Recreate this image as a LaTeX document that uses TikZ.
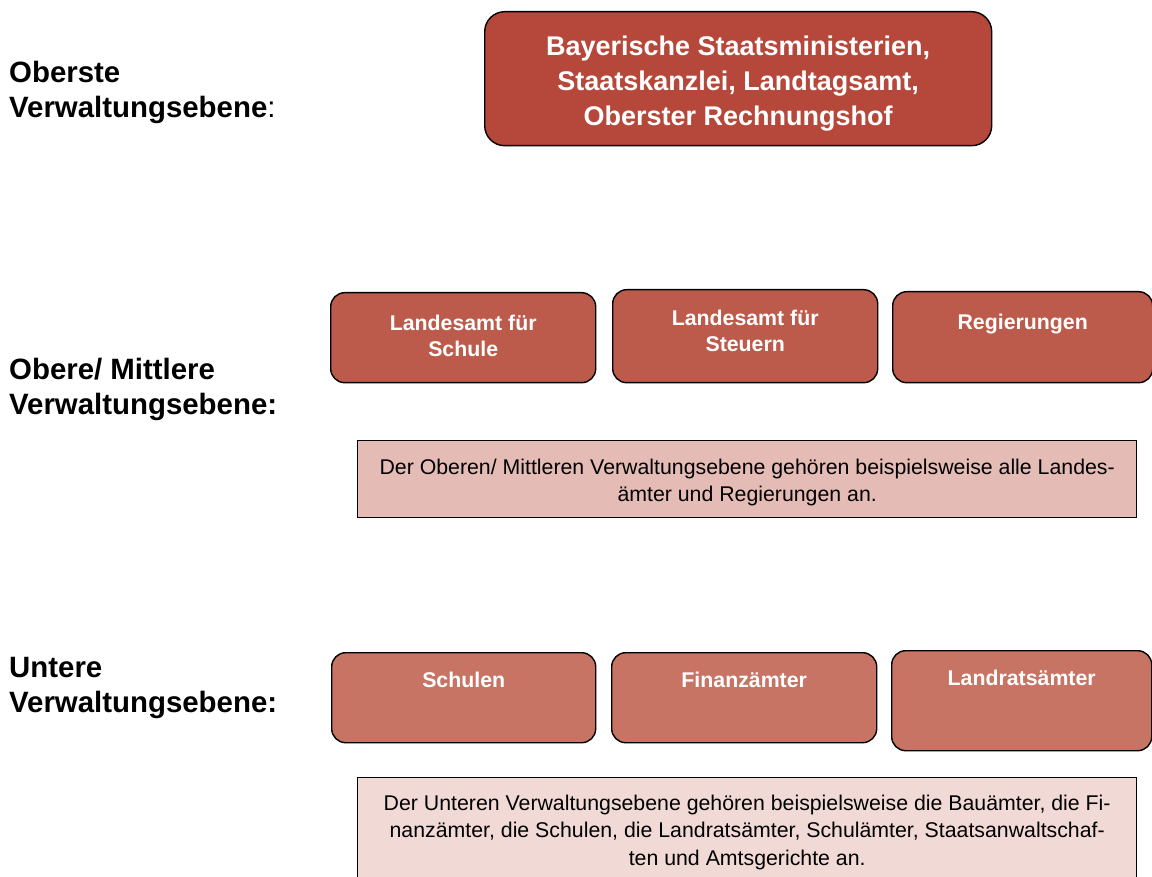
\documentclass[tikz,border=0pt]{standalone}
\usepackage{fontspec}
\setmainfont{Liberation Sans}
\begin{document}
\begin{tikzpicture}[x=1pt,y=-1pt,
  lvl/.style={anchor=north west,align=left,font=\fontsize{29.4}{35}\selectfont\bfseries,inner sep=0pt},
  box/.style={draw=black,line width=1.4pt,rounded corners=14pt,anchor=north west,inner sep=0pt},
  boxtxt/.style={anchor=north,align=center,text=white,font=\fontsize{21.3}{26}\selectfont\bfseries,inner sep=0pt},
  desc/.style={draw=black,line width=1.4pt,anchor=north west,inner sep=0pt},
  desctxt/.style={anchor=north,align=center,font=\fontsize{21.3}{27.5}\selectfont,inner sep=0pt}]
\definecolor{ctop}{HTML}{B5483A}
\definecolor{cmid}{HTML}{BC5B4B}
\definecolor{cbot}{HTML}{C77464}
\definecolor{cdesc1}{HTML}{E5BCB5}
\definecolor{cdesc2}{HTML}{F1DAD6}
\useasboundingbox (0,0) rectangle (1152,877);
% left labels
\node[lvl] (l1) at (9,61) {Oberste\\Verwaltungsebene{\mdseries:}};
\node[lvl] (l2) at (9,358) {Obere/ Mittlere\\Verwaltungsebene:};
\node[lvl] (l3) at (9,657) {Untere\\Verwaltungsebene:};
% top box
\node[box,fill=ctop,rounded corners=20pt,minimum width=507pt,minimum height=134pt] (top) at (484,11) {};
\node[boxtxt,font=\fontsize{27}{35}\selectfont\bfseries] (toptxt) at ([yshift=-24.5pt]top.north) {Bayerische Staatsministerien,\\Staatskanzlei, Landtagsamt,\\Oberster Rechnungshof};
% middle row
\node[box,fill=cmid,minimum width=265pt,minimum height=90pt] (m1) at (330,292) {};
\node[box,fill=cmid,minimum width=265pt,minimum height=93pt] (m2) at (612,289) {};
\node[box,fill=cmid,minimum width=260pt,minimum height=91pt] (m3) at (892,291) {};
\node[boxtxt] (m1t) at ([yshift=-22.5pt]m1.north) {Landesamt für\\Schule};
\node[boxtxt] (m2t) at ([yshift=-21pt]m2.north) {Landesamt für\\Steuern};
\node[boxtxt] (m3t) at ([yshift=-23pt]m3.north) {Regierungen};
% description 1
\node[desc,fill=cdesc1,minimum width=779pt,minimum height=77pt] (d1) at (357,440) {};
\node[desctxt] (d1t) at ([yshift=-18.5pt]d1.north) {Der Oberen/ Mittleren Verwaltungsebene gehören beispielsweise alle Landes-\\ämter und Regierungen an.};
% bottom row
\node[box,fill=cbot,minimum width=264pt,minimum height=90pt] (b1) at (331,652) {};
\node[box,fill=cbot,minimum width=265pt,minimum height=90pt] (b2) at (611,652) {};
\node[box,fill=cbot,minimum width=260pt,minimum height=100pt] (b3) at (891,650) {};
\node[boxtxt] (b1t) at ([yshift=-20pt]b1.north) {Schulen};
\node[boxtxt] (b2t) at ([yshift=-20pt]b2.north) {Finanzämter};
\node[boxtxt] (b3t) at ([yshift=-20pt]b3.north) {Landratsämter};
% description 2
\node[desc,fill=cdesc2,minimum width=779pt,minimum height=110pt] (d2) at (357,777) {};
\node[desctxt] (d2t) at ([yshift=-17.5pt]d2.north) {Der Unteren Verwaltungsebene gehören beispielsweise die Bauämter, die Fi-\\nanzämter, die Schulen, die Landratsämter, Schulämter, Staatsanwaltschaf-\\ten und Amtsgerichte an.};
\end{tikzpicture}
\end{document}
